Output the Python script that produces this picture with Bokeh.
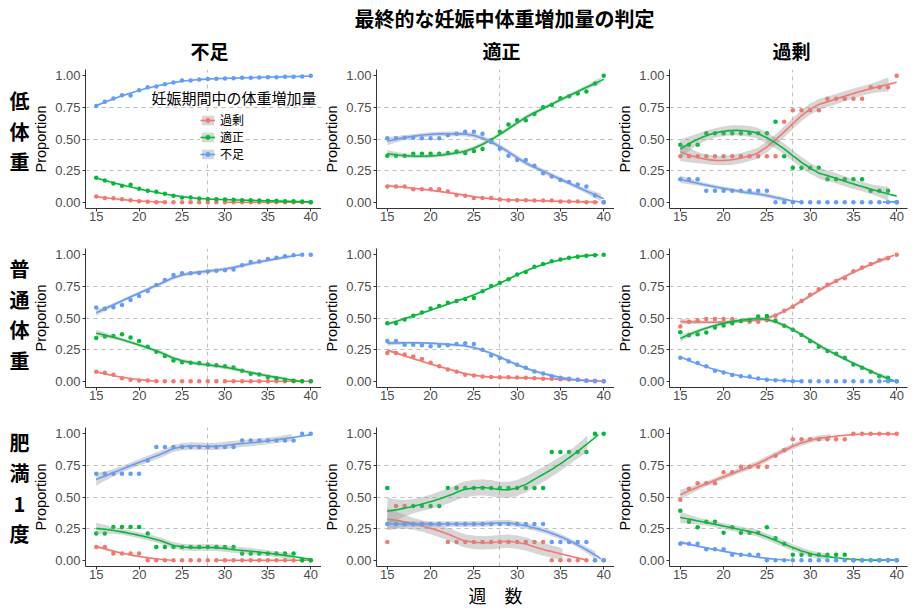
import numpy as np
from bokeh.plotting import figure
from bokeh.models import Range1d, FixedTicker, PrintfTickFormatter, Label, Legend, LegendItem
from bokeh.layouts import column, row
from bokeh.core.properties import value
from bokeh.embed import file_html
from bokeh.resources import INLINE

# ---------------- data ----------------
weeks = [15, 16, 17, 18, 19, 20, 21, 22, 23, 24, 25, 26, 27,
         28, 29, 30, 31, 32, 33, 34, 35, 36, 37, 38, 39, 40]

main_title = "最終的な妊娠中体重増加量の判定"
row_labels = ["低\n体\n重", "普\n通\n体\n重", "肥\n満\n1\n度"]
col_labels = ["不足", "適正", "過剰"]
series_names = ["過剰", "適正", "不足"]
series_colors = ["#F8766D", "#00BA38", "#619CFF"]
legend_title = "妊娠期間中の体重増加量"
y_label = "Proportion"
x_label = "週　数"
x_ticks = [15, 20, 25, 30, 35, 40]
y_ticks = [0, 0.25, 0.5, 0.75, 1.0]
y_grid = [0.25, 0.5, 0.75]
x_ref = [28]

# 低体重 / 不足
low_under_over = [0.045, 0.034, 0.032, 0.023, 0.015, 0.008, 0.003, 0, 0, 0, 0, 0, 0,
                  0, 0, 0, 0, 0, 0, 0, 0, 0, 0, 0, 0, 0]
low_under_ok = [0.193, 0.172, 0.148, 0.130, 0.138, 0.106, 0.090, 0.082, 0.066, 0.050, 0.037, 0.037, 0.029,
                0.026, 0.024, 0.021, 0.019, 0.016, 0.016, 0.013, 0.011, 0.011, 0.008, 0.008, 0.005, 0.0]
low_under_under = [0.762, 0.794, 0.820, 0.847, 0.845, 0.886, 0.910, 0.915, 0.934, 0.947, 0.963, 0.963, 0.971,
                   0.974, 0.976, 0.979, 0.981, 0.984, 0.984, 0.987, 0.989, 0.989, 0.992, 0.992, 0.995, 1.0]
# 低体重 / 適正
low_ok_over = [0.124, 0.124, 0.124, 0.103, 0.103, 0.103, 0.103, 0.085, 0.056, 0.050, 0.034, 0.034, 0.034,
               0.021, 0.016, 0.016, 0.016, 0.013, 0.013, 0.013, 0.005, 0.005, 0.005, 0.0, 0.0, 0.0]
low_ok_ok = [0.368, 0.368, 0.368, 0.384, 0.384, 0.384, 0.384, 0.389, 0.402, 0.389, 0.405, 0.420, 0.490,
             0.558, 0.614, 0.648, 0.648, 0.698, 0.751, 0.770, 0.823, 0.839, 0.860, 0.876, 0.939, 1.0]
low_ok_under = [0.505, 0.505, 0.510, 0.510, 0.505, 0.505, 0.505, 0.529, 0.542, 0.558, 0.558, 0.542, 0.476,
                0.423, 0.368, 0.333, 0.333, 0.289, 0.228, 0.204, 0.175, 0.159, 0.140, 0.124, 0.053, 0.0]
# 低体重 / 過剰
low_over_over = [0.364, 0.364, 0.364, 0.364, 0.364, 0.364, 0.364, 0.364, 0.364, 0.364, 0.364, 0.364, 0.636,
                 0.727, 0.727, 0.727, 0.727, 0.818, 0.818, 0.818, 0.818, 0.818, 0.909, 0.909, 0.909, 1.0]
low_over_ok = [0.455, 0.455, 0.455, 0.545, 0.545, 0.545, 0.545, 0.545, 0.545, 0.545, 0.545, 0.636, 0.364,
               0.273, 0.273, 0.273, 0.273, 0.182, 0.182, 0.182, 0.182, 0.182, 0.091, 0.091, 0.091, 0.0]
low_over_under = [0.182, 0.182, 0.182, 0.091, 0.091, 0.091, 0.091, 0.091, 0.091, 0.091, 0.091, 0.0, 0.0,
                  0.0, 0.0, 0.0, 0.0, 0.0, 0.0, 0.0, 0.0, 0.0, 0.0, 0.0, 0.0, 0.0]
# 普通体重 / 不足
norm_under_over = [0.074, 0.066, 0.050, 0.024, 0.011, 0.005, 0.005, 0, 0, 0, 0, 0, 0,
                   0, 0, 0, 0, 0, 0, 0, 0, 0, 0, 0, 0, 0]
norm_under_ok = [0.342, 0.353, 0.358, 0.371, 0.345, 0.318, 0.273, 0.233, 0.199, 0.164, 0.149, 0.146, 0.143,
                 0.133, 0.127, 0.119, 0.109, 0.082, 0.058, 0.053, 0.034, 0.024, 0.011, 0.003, 0.0, 0.0]
norm_under_under = [0.584, 0.573, 0.586, 0.602, 0.642, 0.674, 0.714, 0.761, 0.801, 0.841, 0.854, 0.854, 0.857,
                    0.867, 0.873, 0.878, 0.883, 0.918, 0.944, 0.947, 0.966, 0.976, 0.989, 0.997, 1.0, 1.0]
# 普通体重 / 適正
norm_ok_over = [0.223, 0.223, 0.212, 0.196, 0.175, 0.146, 0.119, 0.093, 0.074, 0.050, 0.045, 0.037, 0.034,
                0.032, 0.032, 0.029, 0.027, 0.024, 0.019, 0.019, 0.016, 0.013, 0.011, 0.005, 0.003, 0.0]
norm_ok_ok = [0.459, 0.459, 0.488, 0.517, 0.544, 0.576, 0.594, 0.621, 0.634, 0.650, 0.658, 0.711, 0.753,
              0.777, 0.806, 0.844, 0.865, 0.905, 0.928, 0.950, 0.963, 0.976, 0.984, 0.992, 0.997, 1.0]
norm_ok_under = [0.318, 0.318, 0.289, 0.289, 0.284, 0.276, 0.281, 0.284, 0.294, 0.300, 0.294, 0.249, 0.204,
                 0.183, 0.156, 0.130, 0.106, 0.077, 0.061, 0.040, 0.027, 0.019, 0.011, 0.003, 0.0, 0.0]
# 普通体重 / 過剰
norm_over_over = [0.432, 0.470, 0.483, 0.493, 0.493, 0.493, 0.491, 0.477, 0.470, 0.470, 0.483, 0.517, 0.557,
                  0.589, 0.634, 0.684, 0.727, 0.764, 0.793, 0.814, 0.870, 0.899, 0.928, 0.958, 0.973, 1.0]
norm_over_ok = [0.387, 0.363, 0.371, 0.385, 0.424, 0.440, 0.459, 0.477, 0.485, 0.512, 0.515, 0.477, 0.438,
                0.408, 0.366, 0.316, 0.273, 0.239, 0.218, 0.186, 0.133, 0.106, 0.074, 0.040, 0.027, 0.0]
norm_over_under = [0.186, 0.170, 0.143, 0.119, 0.082, 0.069, 0.048, 0.040, 0.037, 0.021, 0.011, 0.008, 0.005,
                   0, 0, 0, 0, 0, 0, 0, 0, 0, 0, 0, 0, 0]
# 肥満1度 / 不足
obese_under_over = [0.105, 0.105, 0.053, 0.053, 0.053, 0.053, 0, 0, 0, 0, 0, 0, 0,
                    0, 0, 0, 0, 0, 0, 0, 0, 0, 0, 0, 0, 0]
obese_under_ok = [0.211, 0.211, 0.263, 0.263, 0.263, 0.263, 0.211, 0.105, 0.105, 0.105, 0.105, 0.105, 0.105,
                  0.105, 0.105, 0.105, 0.105, 0.053, 0.053, 0.053, 0.053, 0.053, 0.053, 0.053, 0.0, 0.0]
obese_under_under = [0.684, 0.684, 0.684, 0.684, 0.684, 0.684, 0.789, 0.895, 0.895, 0.895, 0.895, 0.895, 0.895,
                     0.895, 0.895, 0.895, 0.895, 0.947, 0.947, 0.947, 0.947, 0.947, 0.947, 0.947, 1.0, 1.0]
# 肥満1度 / 適正
obese_ok_over = [0.143, 0.429, 0.429, 0.286, 0.286, 0.286, 0.286, 0.143, 0.143, 0.143, 0.143, 0.143, 0.143,
                 0.143, 0.143, 0.143, 0.143, 0.143, 0.143, 0.0, 0.0, 0.0, 0.0, 0.0, 0.0, 0.0]
obese_ok_ok = [0.571, 0.286, 0.286, 0.429, 0.429, 0.429, 0.429, 0.571, 0.571, 0.571, 0.571, 0.571, 0.571,
               0.571, 0.571, 0.571, 0.571, 0.571, 0.571, 0.857, 0.857, 0.857, 0.857, 0.857, 1.0, 1.0]
obese_ok_under = [0.286, 0.286, 0.286, 0.286, 0.286, 0.286, 0.286, 0.286, 0.286, 0.286, 0.286, 0.286, 0.286,
                  0.286, 0.286, 0.286, 0.286, 0.286, 0.286, 0.143, 0.143, 0.143, 0.143, 0.143, 0.0, 0.0]
# 肥満1度 / 過剰
obese_over_over = [0.478, 0.565, 0.609, 0.609, 0.609, 0.696, 0.696, 0.739, 0.739, 0.739, 0.739, 0.826, 0.870,
                   0.957, 0.957, 0.957, 0.957, 0.957, 0.957, 0.957, 1.0, 1.0, 1.0, 1.0, 1.0, 1.0]
obese_over_ok = [0.391, 0.304, 0.261, 0.304, 0.304, 0.217, 0.261, 0.217, 0.217, 0.217, 0.261, 0.174, 0.130,
                 0.043, 0.043, 0.043, 0.043, 0.043, 0.043, 0.043, 0.0, 0.0, 0.0, 0.0, 0.0, 0.0]
obese_over_under = [0.130, 0.130, 0.130, 0.087, 0.087, 0.087, 0.043, 0.043, 0.043, 0.043, 0.0, 0.0, 0.0,
                    0, 0, 0, 0, 0, 0, 0, 0, 0, 0, 0, 0, 0]

panels = [
    [[low_under_over, low_under_ok, low_under_under],
     [low_ok_over, low_ok_ok, low_ok_under],
     [low_over_over, low_over_ok, low_over_under]],
    [[norm_under_over, norm_under_ok, norm_under_under],
     [norm_ok_over, norm_ok_ok, norm_ok_under],
     [norm_over_over, norm_over_ok, norm_over_under]],
    [[obese_under_over, obese_under_ok, obese_under_under],
     [obese_ok_over, obese_ok_ok, obese_ok_under],
     [obese_over_over, obese_over_ok, obese_over_under]],
]


# ---------------- loess smoother (as geom_smooth default) ----------------
def t975(df):
    z = 1.959963985
    g1 = (z**3 + z) / 4
    g2 = (5*z**5 + 16*z**3 + 3*z) / 96
    g3 = (3*z**7 + 19*z**5 + 17*z**3 - 15*z) / 384
    g4 = (79*z**9 + 776*z**7 + 1482*z**5 - 1920*z**3 - 945*z) / 92160
    return z + g1/df + g2/df**2 + g3/df**3 + g4/df**4


def local_row(x, x0, q):
    d = np.abs(x - x0)
    h = max(np.sort(d)[q - 1], 1e-12)
    u = d / h
    w = np.where(u < 1, (1 - u**3)**3, 0.0)
    X = np.column_stack([np.ones_like(x), x - x0, (x - x0)**2])
    XtW = X.T * w
    return np.linalg.solve(XtW @ X, XtW)[0]


def loess(xv, yv, span=0.75, npts=80):
    x = np.asarray(xv, float)
    y = np.asarray(yv, float)
    n = len(x)
    q = int(np.floor(n * span))
    L = np.array([local_row(x, xi, q) for xi in x])
    M = np.eye(n) - L
    MtM = M.T @ M
    d1 = np.trace(MtM)
    d2 = np.trace(MtM @ MtM)
    res = y - L @ y
    s = np.sqrt(np.sum(res**2) / d1)
    dfr = d1**2 / d2
    xs = np.linspace(x.min(), x.max(), npts)
    Ls = np.array([local_row(x, x0, q) for x0 in xs])
    fit = Ls @ y
    se = s * np.sqrt(np.sum(Ls**2, axis=1))
    t = t975(dfr)
    return xs, fit, fit - t * se, fit + t * se


def inside(v):
    return (v >= -1e-9) & (v <= 1 + 1e-9)


def band_polys(xs, lo, hi):
    ok = inside(lo) & inside(hi)
    polys_x, polys_y = [], []
    i = 0
    n = len(xs)
    while i < n:
        if ok[i]:
            j = i
            while j < n and ok[j]:
                j += 1
            if j - i >= 2:
                seg = slice(i, j)
                polys_x.append(list(xs[seg]) + list(xs[seg][::-1]))
                polys_y.append(list(hi[seg]) + list(lo[seg][::-1]))
            i = j
        else:
            i += 1
    return polys_x, polys_y


# ---------------- layout ----------------
frame_w, frame_h = 239, 139
strip_w = 30
col_left = [52, 54, 54]
col_right = [0, 0, 5]
row_top = [3, 21, 21]
row_bottom = [19, 19, 44]
top_h = 66

JP = "Noto Sans CJK JP"
LAT = "Liberation Sans"
MIX = "Liberation Sans, Noto Sans CJK JP"

col_widths = [col_left[c] + frame_w + col_right[c] for c in range(3)]
row_heights = [row_top[r] + frame_h + row_bottom[r] for r in range(3)]
total_w = strip_w + sum(col_widths)


def blank_fig(w, h):
    f = figure(width=w, height=h, x_range=Range1d(0, w), y_range=Range1d(0, h),
               output_backend="svg", toolbar_location=None, tools="",
               min_border=0, outline_line_color=None,
               background_fill_color="white", border_fill_color="white")
    f.axis.visible = False
    f.grid.visible = False
    return f


# top strip: overall title and column headers
top = blank_fig(total_w, top_h)
top.text(x=[504], y=[top_h - 17.5], text=[main_title], text_font=value(JP),
         text_font_size="20px", text_font_style="bold", text_align="center",
         text_baseline="middle", text_color="black")
top.text(x=[209, 501, 791], y=[top_h - 49.5] * 3, text=col_labels, text_font=value(JP),
         text_font_size="19px", text_font_style="bold", text_align="center",
         text_baseline="middle", text_color="black")

row_label_y = [row_heights[0] - 71.3, row_heights[1] - 85.0, row_heights[2] - 88.7]

rows = []
for r in range(3):
    lab = blank_fig(strip_w, row_heights[r])
    lab.text(x=[19], y=[row_label_y[r]], text=[row_labels[r]], text_font=value(JP),
             text_font_size="20px", text_font_style="bold", text_align="center",
             text_baseline="middle", text_line_height=1.05, text_color="black")
    figs = [lab]
    for c in range(3):
        p = figure(width=col_widths[c], height=row_heights[r],
                   x_range=Range1d(13.75, 41.25), y_range=Range1d(-0.05, 1.05),
                   output_backend="svg", toolbar_location=None, tools="",
                   min_border_left=col_left[c], min_border_right=col_right[c],
                   min_border_top=row_top[r], min_border_bottom=row_bottom[r],
                   background_fill_color="white", border_fill_color="white",
                   outline_line_color=None)
        for ax in (p.xaxis[0], p.yaxis[0]):
            ax.axis_line_color = "#333333"
            ax.axis_line_width = 1
            ax.major_tick_line_color = "#333333"
            ax.major_tick_out = 3
            ax.major_tick_in = 0
            ax.minor_tick_line_color = None
            ax.major_label_text_font = LAT
            ax.major_label_text_font_size = "13px"
            ax.major_label_text_color = "#4D4D4D"
        p.xaxis.ticker = FixedTicker(ticks=x_ticks)
        p.xaxis.major_label_standoff = 0
        if r == 2 and c == 1:
            p.xaxis.axis_label = x_label
            p.xaxis.axis_label_text_font = JP
            p.xaxis.axis_label_text_font_size = "18px"
            p.xaxis.axis_label_text_font_style = "normal"
            p.xaxis.axis_label_text_color = "black"
            p.xaxis.axis_label_standoff = 0
        p.yaxis.ticker = FixedTicker(ticks=y_ticks)
        p.yaxis.formatter = PrintfTickFormatter(format="%.2f")
        p.yaxis.major_label_standoff = 2
        p.yaxis.axis_label = y_label
        p.yaxis.axis_label_text_font = LAT
        p.yaxis.axis_label_text_font_size = "14.5px"
        p.yaxis.axis_label_text_font_style = "normal"
        p.yaxis.axis_label_text_color = "black"
        p.yaxis.axis_label_standoff = 3
        p.ygrid.ticker = FixedTicker(ticks=y_grid)
        p.xgrid.ticker = FixedTicker(ticks=x_ref)
        for g in (p.xgrid[0], p.ygrid[0]):
            g.grid_line_color = "#BEBEBE"
            g.grid_line_dash = "4 4"
            g.grid_line_width = 1

        leg_items = []
        for k in range(3):
            vals = panels[r][c][k]
            col = series_colors[k]
            pts = p.scatter(weeks, vals, size=4.5, fill_color=col, line_color=None)
            xs, fit, lo, hi = loess(weeks, vals)
            pxs, pys = band_polys(xs, lo, hi)
            band = p.patches(pxs, pys, fill_color="#999999", fill_alpha=0.4, line_color=None)
            fit_line = np.where(inside(fit), fit, np.nan)
            ln = p.line(xs, fit_line, line_color=col, line_width=1.6)
            leg_items.append(LegendItem(label=series_names[k], renderers=[band, ln, pts]))

        if r == 0 and c == 0:
            legend = Legend(items=leg_items, location=(115, 46), padding=1, spacing=0,
                            margin=0, glyph_width=15, glyph_height=12, label_height=12,
                            label_standoff=5, label_text_font=MIX,
                            label_text_font_size="12px", label_text_color="black",
                            background_fill_color="white", background_fill_alpha=1,
                            border_line_color=None)
            p.add_layout(legend)
            p.add_layout(Label(x=66, y=110, x_units="screen", y_units="screen",
                               text=legend_title, text_font=MIX, text_font_size="15px",
                               text_align="left", text_baseline="middle",
                               text_color="black", background_fill_color="white"))
        figs.append(p)
    rows.append(row(*figs, spacing=0))

layout = column(top, *rows, spacing=0)
open("out.html", "w").write(file_html(layout, INLINE))
